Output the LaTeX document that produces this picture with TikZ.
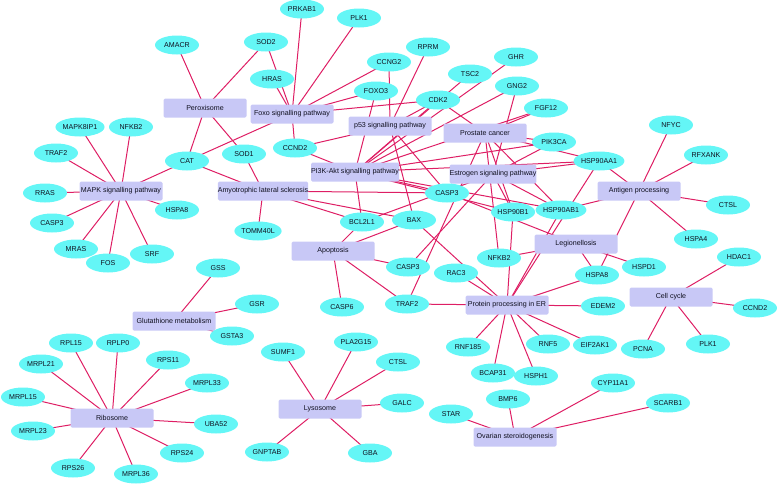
\documentclass[tikz,border=0pt]{standalone}
\usepackage{fontspec}
\setmainfont{Liberation Sans}
\usetikzlibrary{shapes.geometric}
\pgfdeclarelayer{bg}
\pgfsetlayers{bg,main}
\definecolor{genecol}{RGB}{100,246,246}
\definecolor{pathcol}{RGB}{200,200,246}
\definecolor{edgecol}{RGB}{222,30,100}
\definecolor{txtcol}{RGB}{15,15,30}
\tikzset{
  gene/.style={ellipse, fill=genecol, minimum width=44pt, minimum height=19pt, inner sep=0pt, text=txtcol, font=\fontsize{7.1}{8}\selectfont},
  pway/.style={rectangle, rounded corners=1.5pt, fill=pathcol, minimum width=83pt, minimum height=19pt, inner sep=0pt, text=txtcol, font=\fontsize{7.1}{8}\selectfont},
  link/.style={draw=edgecol, line width=1pt}
}
\begin{document}
\begin{tikzpicture}[x=1pt,y=-1pt]
\useasboundingbox (0,0) rectangle (778,485);
% pathways
\node[pway] (perox) at (205,108) {Peroxisome};
\node[pway] (foxo) at (292,114) {Foxo signalling pathway};
\node[pway] (p53) at (390,126) {p53 signalling pathway};
\node[pway] (prost) at (485,133) {Prostate cancer};
\node[pway] (pi3k) at (355,172) {PI3K-Akt signalling pathway};
\node[pway] (estr) at (493,174) {Estrogen signaling pathway};
\node[pway] (als) at (263,191) {Amyotrophic lateral sclerosis};
\node[pway] (mapk) at (121,191) {MAPK signalling pathway};
\node[pway] (apop) at (333,251) {Apoptosis};
\node[pway] (antig) at (639,191) {Antigen processing};
\node[pway] (legio) at (576,244) {Legionellosis};
\node[pway] (ppe) at (507,305) {Protein processing in ER};
\node[pway] (cellc) at (671,297) {Cell cycle};
\node[pway] (glut) at (174,321) {Glutathione metabolism};
\node[pway] (ribo) at (112,418) {Ribosome};
\node[pway] (lyso) at (320,409) {Lysosome};
\node[pway] (ovar) at (515,437) {Ovarian steroidogenesis};
% genes
\node[gene] (amacr) at (177,45) {AMACR};
\node[gene] (sod2) at (266,42) {SOD2};
\node[gene] (prkab1) at (302,9) {PRKAB1};
\node[gene] (plk1a) at (359,18) {PLK1};
\node[gene] (hras) at (272,79) {HRAS};
\node[gene] (ccng2) at (389,62) {CCNG2};
\node[gene] (rprm) at (428,47) {RPRM};
\node[gene] (foxo3) at (376,91) {FOXO3};
\node[gene] (tsc2) at (470,74) {TSC2};
\node[gene] (cdk2) at (438,100) {CDK2};
\node[gene] (ghr) at (516,57) {GHR};
\node[gene] (gng2) at (517,86) {GNG2};
\node[gene] (fgf12) at (546,108) {FGF12};
\node[gene] (pik3ca) at (554,142) {PIK3CA};
\node[gene] (hsp90aa1) at (599,161) {HSP90AA1};
\node[gene] (nfyc) at (671,125) {NFYC};
\node[gene] (rfxank) at (706,155) {RFXANK};
\node[gene] (ccnd2a) at (295,148) {CCND2};
\node[gene] (sod1) at (244,154) {SOD1};
\node[gene] (cat) at (187,161) {CAT};
\node[gene] (mapk8ip1) at (80,127) {MAPK8IP1};
\node[gene] (nfkb2a) at (131,127) {NFKB2};
\node[gene] (traf2a) at (56,153) {TRAF2};
\node[gene] (rras) at (45,193) {RRAS};
\node[gene] (hspa8a) at (177,210) {HSPA8};
\node[gene] (casp3a) at (52,223) {CASP3};
\node[gene] (mras) at (76,249) {MRAS};
\node[gene] (fos) at (108,263) {FOS};
\node[gene] (srf) at (152,254) {SRF};
\node[gene] (tomm40l) at (258,231) {TOMM40L};
\node[gene] (gss) at (218,268) {GSS};
\node[gene] (gsr) at (257,304) {GSR};
\node[gene] (gsta3) at (232,336) {GSTA3};
\node[gene] (bcl2l1) at (362,222) {BCL2L1};
\node[gene] (bax) at (414,220) {BAX};
\node[gene] (casp3b) at (447,193) {CASP3};
\node[gene] (hsp90b1) at (513,212) {HSP90B1};
\node[gene] (hsp90ab1) at (561,210) {HSP90AB1};
\node[gene] (casp3c) at (408,267) {CASP3};
\node[gene] (rac3) at (456,273) {RAC3};
\node[gene] (nfkb2b) at (499,258) {NFKB2};
\node[gene] (traf2b) at (407,304) {TRAF2};
\node[gene] (casp6) at (342,307) {CASP6};
\node[gene] (hspd1) at (644,267) {HSPD1};
\node[gene] (hspa8b) at (597,275) {HSPA8};
\node[gene] (edem2) at (603,306) {EDEM2};
\node[gene] (ctsla) at (728,205) {CTSL};
\node[gene] (hspa4) at (696,239) {HSPA4};
\node[gene] (hdac1) at (739,257) {HDAC1};
\node[gene] (ccnd2b) at (755,308) {CCND2};
\node[gene] (pcna) at (643,349) {PCNA};
\node[gene] (plk1b) at (708,344) {PLK1};
\node[gene] (eif2ak1) at (595,345) {EIF2AK1};
\node[gene] (rnf5) at (548,344) {RNF5};
\node[gene] (rnf185) at (468,347) {RNF185};
\node[gene] (bcap31) at (493,373) {BCAP31};
\node[gene] (hsph1) at (536,376) {HSPH1};
\node[gene] (bmp6) at (508,399) {BMP6};
\node[gene] (star) at (451,414) {STAR};
\node[gene] (cyp11a1) at (613,383) {CYP11A1};
\node[gene] (scarb1) at (668,403) {SCARB1};
\node[gene] (sumf1) at (283,352) {SUMF1};
\node[gene] (pla2g15) at (356,342) {PLA2G15};
\node[gene] (ctslb) at (398,362) {CTSL};
\node[gene] (galc) at (402,403) {GALC};
\node[gene] (gnptab) at (267,452) {GNPTAB};
\node[gene] (gba) at (370,453) {GBA};
\node[gene] (rpl15) at (71,343) {RPL15};
\node[gene] (rplp0) at (118,343) {RPLP0};
\node[gene] (mrpl21) at (41,364) {MRPL21};
\node[gene] (rps11) at (168,360) {RPS11};
\node[gene] (mrpl33) at (207,383) {MRPL33};
\node[gene] (mrpl15) at (23,397) {MRPL15};
\node[gene] (uba52) at (216,424) {UBA52};
\node[gene] (mrpl23) at (33,431) {MRPL23};
\node[gene] (rps24) at (182,453) {RPS24};
\node[gene] (rps26) at (73,468) {RPS26};
\node[gene] (mrpl36) at (136,474) {MRPL36};
% edges
\begin{pgfonlayer}{bg}
\foreach \g in {amacr,sod2,cat,sod1} \draw[link] (perox.center) -- (\g.center);
\foreach \g in {sod2,hras,prkab1,plk1a,ccng2,foxo3,cdk2,ccnd2a,cat} \draw[link] (foxo.center) -- (\g.center);
\foreach \g in {ccng2,rprm,cdk2,ccnd2a,bax,casp3b} \draw[link] (p53.center) -- (\g.center);
\foreach \g in {ccnd2a,cdk2,tsc2,ghr,gng2,fgf12,pik3ca,hsp90aa1,hsp90ab1,hsp90b1,bcl2l1,casp3b,foxo3} \draw[link] (pi3k.center) -- (\g.center);
\foreach \g in {cdk2,fgf12,pik3ca,hsp90aa1,hsp90ab1,hsp90b1,nfkb2b,traf2b} \draw[link] (prost.center) -- (\g.center);
\foreach \g in {pik3ca,hsp90aa1,hsp90ab1,hsp90b1,gng2,bcl2l1,casp3c} \draw[link] (estr.center) -- (\g.center);
\foreach \g in {cat,sod1,tomm40l,bcl2l1,casp3b,bax} \draw[link] (als.center) -- (\g.center);
\foreach \g in {traf2a,mapk8ip1,nfkb2a,cat,rras,casp3a,mras,fos,srf,hspa8a} \draw[link] (mapk.center) -- (\g.center);
\foreach \g in {bcl2l1,bax,casp3c,casp6,traf2b} \draw[link] (apop.center) -- (\g.center);
\foreach \g in {nfyc,rfxank,ctsla,hspa4,hsp90aa1,hsp90ab1,hspa8b} \draw[link] (antig.center) -- (\g.center);
\foreach \g in {hspd1,hspa8b,nfkb2b,casp3b} \draw[link] (legio.center) -- (\g.center);
\foreach \g in {hspa8b,edem2,traf2b,bax,rac3,rnf185,bcap31,hsph1,rnf5,eif2ak1,hsp90b1,hsp90aa1,hsp90ab1} \draw[link] (ppe.center) -- (\g.center);
\foreach \g in {hdac1,ccnd2b,pcna,plk1b} \draw[link] (cellc.center) -- (\g.center);
\foreach \g in {gss,gsr,gsta3} \draw[link] (glut.center) -- (\g.center);
\foreach \g in {rpl15,rplp0,mrpl21,rps11,mrpl33,mrpl15,uba52,mrpl23,rps24,rps26,mrpl36} \draw[link] (ribo.center) -- (\g.center);
\foreach \g in {sumf1,pla2g15,ctslb,galc,gnptab,gba} \draw[link] (lyso.center) -- (\g.center);
\foreach \g in {star,bmp6,cyp11a1,scarb1} \draw[link] (ovar.center) -- (\g.center);
\end{pgfonlayer}
\end{tikzpicture}
\end{document}
